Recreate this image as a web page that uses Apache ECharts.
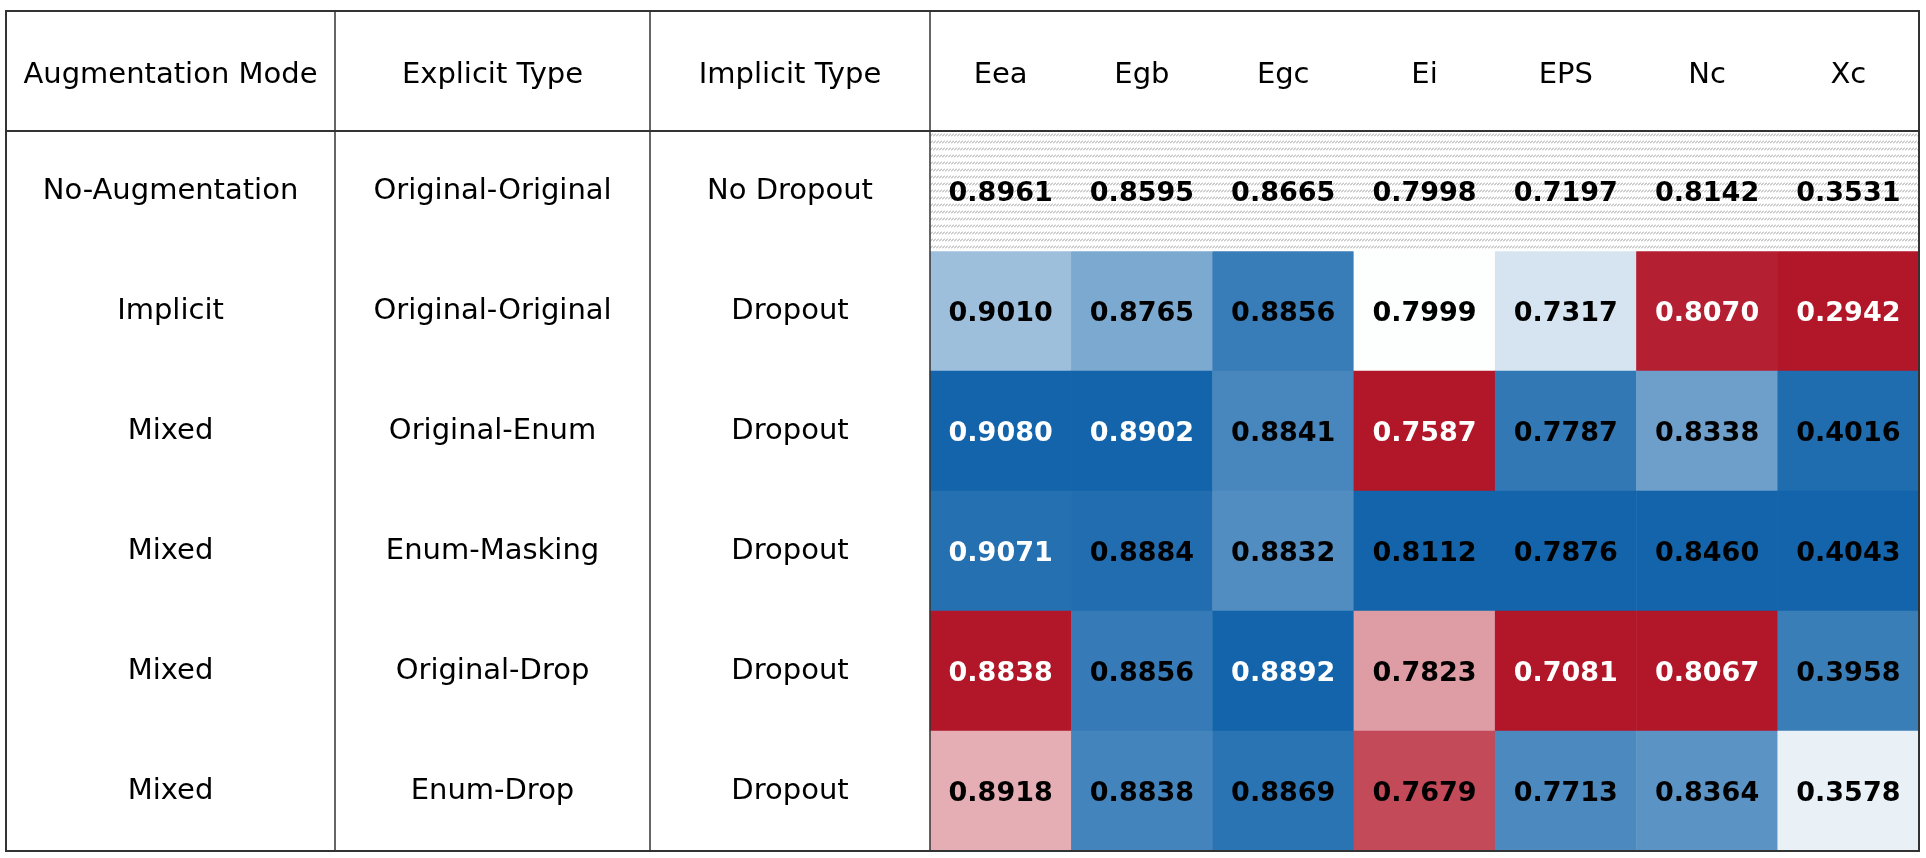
<!DOCTYPE html>
<html>
<head>
<meta charset="utf-8">
<script src="https://cdn.jsdelivr.net/npm/echarts@6/dist/echarts.min.js"></script>
<style>
html,body{margin:0;padding:0;background:#fff;}
#chart{width:1926px;height:858px;}
</style>
</head>
<body>
<div id="chart"></div>
<script>
// ---- data ----
const metrics = ['Eea', 'Egb', 'Egc', 'Ei', 'EPS', 'Nc', 'Xc'];
const headerLabels = ['Augmentation Mode', 'Explicit Type', 'Implicit Type'];
const augmentationMode = ['No-Augmentation', 'Implicit', 'Mixed', 'Mixed', 'Mixed', 'Mixed'];
const explicitType = ['Original-Original', 'Original-Original', 'Original-Enum', 'Enum-Masking', 'Original-Drop', 'Enum-Drop'];
const implicitType = ['No Dropout', 'Dropout', 'Dropout', 'Dropout', 'Dropout', 'Dropout'];

const noAugmentation   = [0.8961, 0.8595, 0.8665, 0.7998, 0.7197, 0.8142, 0.3531];
const implicitOrigOrig = [0.9010, 0.8765, 0.8856, 0.7999, 0.7317, 0.8070, 0.2942];
const mixedOrigEnum    = [0.9080, 0.8902, 0.8841, 0.7587, 0.7787, 0.8338, 0.4016];
const mixedEnumMasking = [0.9071, 0.8884, 0.8832, 0.8112, 0.7876, 0.8460, 0.4043];
const mixedOrigDrop    = [0.8838, 0.8856, 0.8892, 0.7823, 0.7081, 0.8067, 0.3958];
const mixedEnumDrop    = [0.8918, 0.8838, 0.8869, 0.7679, 0.7713, 0.8364, 0.3578];

const augmentedRows = [implicitOrigOrig, mixedOrigEnum, mixedEnumMasking, mixedOrigDrop, mixedEnumDrop];

// ---- styles (not data) ----
const whiteLabelCells = [[5,1],[6,1],[0,2],[1,2],[3,2],[0,3],[0,4],[2,4],[4,4],[5,4]]; // [col,row]
const FONT = '"DejaVu Sans"';
const TEXT_SIZE = 29;
const NUM_SIZE = 27;
const LINE = '#333333';
const T = { left: 6, top: 11, right: 1919, bottom: 851, headerBottom: 131, dividers: [335, 650, 930] };

// hatch tile for the baseline row
const tile = document.createElement('canvas');
tile.width = 3; tile.height = 7;
const tctx = tile.getContext('2d');
tctx.fillStyle = '#ffffff'; tctx.fillRect(0, 0, 3, 7);
tctx.strokeStyle = '#9a9a9a'; tctx.lineWidth = 1;
tctx.beginPath(); tctx.moveTo(0, 3.5); tctx.lineTo(3, 0.5); tctx.stroke();

// ---- build heatmap data: colour by change vs baseline, scaled per column and per sign ----
const heatData = [];
augmentedRows.forEach((row, r) => {
  row.forEach((v, c) => {
    const base = noAugmentation[c];
    const deltas = augmentedRows.map(rr => rr[c] - base);
    const maxPos = Math.max(0, ...deltas);
    const maxNeg = Math.max(0, ...deltas.map(d => -d));
    const d = v - base;
    const norm = d >= 0 ? (maxPos ? d / maxPos : 0) : (maxNeg ? d / maxNeg : 0);
    const white = whiteLabelCells.some(p => p[0] === c && p[1] === r + 1);
    heatData.push({ value: [c, r + 1, v, norm], label: { color: white ? '#ffffff' : '#000000' } });
  });
});
const baseData = noAugmentation.map((v, c) => [c, 0, v]);

const rowIdx = augmentationMode.map((_, i) => String(i));
function rowAxis(names, margin) {
  return {
    type: 'category', data: rowIdx, inverse: true, gridIndex: 0, position: 'left', offset: 0,
    axisLine: { show: false }, axisTick: { show: false }, splitLine: { show: false },
    axisLabel: {
      interval: 0, margin: margin, align: 'center', verticalAlign: 'middle',
      padding: [6, 0, 0, 0],
      fontFamily: FONT, fontSize: TEXT_SIZE, color: '#000',
      formatter: (v, i) => names[i]
    }
  };
}

const graphics = [];
// outer border and header rule
graphics.push({ type: 'rect', z: 100, shape: { x: T.left, y: T.top, width: T.right - T.left, height: T.bottom - T.top },
  style: { fill: 'none', stroke: LINE, lineWidth: 2 } });
graphics.push({ type: 'line', z: 100, shape: { x1: T.left, y1: T.headerBottom, x2: T.right, y2: T.headerBottom },
  style: { stroke: LINE, lineWidth: 2 } });
T.dividers.forEach(x => graphics.push({ type: 'line', z: 100, shape: { x1: x, y1: T.top, x2: x, y2: T.bottom },
  style: { stroke: LINE, lineWidth: 1.5 } }));
const colEdges = [T.left].concat(T.dividers);
headerLabels.forEach((h, i) => graphics.push({
  type: 'text', z: 100,
  x: (colEdges[i] + colEdges[i + 1]) / 2, y: (T.top + T.headerBottom) / 2 + 4,
  style: { text: h, fontFamily: FONT, fontSize: TEXT_SIZE, fill: '#000', align: 'center', verticalAlign: 'middle' }
}));

const chart = echarts.init(document.getElementById('chart'), null, { renderer: 'canvas' });
chart.setOption({
  backgroundColor: '#ffffff',
  animation: false,
  grid: { left: T.dividers[2], top: T.headerBottom, right: 1926 - T.right, bottom: 858 - T.bottom,
    containLabel: false, outerBoundsMode: 'none' },
  xAxis: {
    type: 'category', position: 'top', data: metrics,
    axisLine: { show: false }, axisTick: { show: false }, splitLine: { show: false },
    axisLabel: { interval: 0, margin: (T.headerBottom - T.top) / 2 - 4, verticalAlign: 'middle',
      fontFamily: FONT, fontSize: TEXT_SIZE, color: '#000' }
  },
  yAxis: [
    rowAxis(implicitType, T.dividers[2] - (T.dividers[1] + T.dividers[2]) / 2),
    rowAxis(explicitType, T.dividers[2] - (T.dividers[0] + T.dividers[1]) / 2),
    rowAxis(augmentationMode, T.dividers[2] - (T.left + T.dividers[0]) / 2)
  ],
  visualMap: {
    type: 'continuous', show: false, seriesIndex: 0, dimension: 3,
    min: -1, max: 1, inRange: { color: ['#b11629', '#ffffff', '#1364aa'] }
  },
  graphic: graphics,
  series: [
    {
      type: 'heatmap', xAxisIndex: 0, yAxisIndex: 0, data: heatData,
      label: { show: true, fontFamily: FONT, fontWeight: 'bold', fontSize: NUM_SIZE, offset: [0, 3],
        formatter: p => p.value[2].toFixed(4) },
      emphasis: { disabled: true }
    },
    {
      type: 'heatmap', xAxisIndex: 0, yAxisIndex: 0, data: baseData,
      itemStyle: { color: { image: tile, repeat: 'repeat' } },
      label: { show: true, fontFamily: FONT, fontWeight: 'bold', fontSize: NUM_SIZE, color: '#000', offset: [0, 3],
        formatter: p => p.value[2].toFixed(4) },
      emphasis: { disabled: true }
    }
  ]
});
</script>
</body>
</html>
